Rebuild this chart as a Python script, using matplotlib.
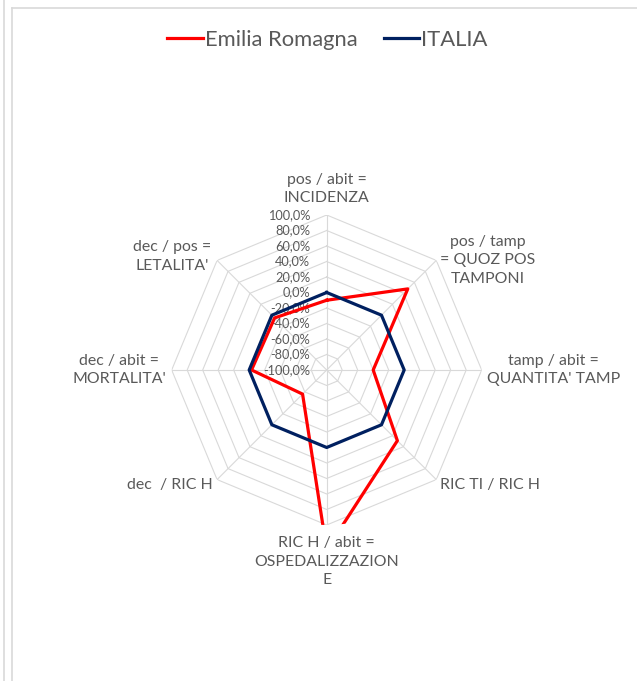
import numpy as np
import matplotlib
matplotlib.use("Agg")
import matplotlib.pyplot as plt
from matplotlib.lines import Line2D

plt.rcParams['font.family'] = ['Lato', 'DejaVu Sans']

# dati (valori in %)
categorie = ["pos / abit =\nINCIDENZA",
             "pos / tamp\n= QUOZ POS\nTAMPONI",
             "tamp / abit =\nQUANTITA' TAMP",
             "RIC TI / RIC H",
             "RIC H / abit =\nOSPEDALIZZAZION\nE",
             "dec  / RIC H",
             "dec / abit =\nMORTALITA'",
             "dec / pos =\nLETALITA'"]
emilia_romagna = [-10, 48, -40, 29, 132, -56, -3, -5]
italia = [0, 0, 0, 0, 0, 0, 0, 0]
tick_valori = [-100, -80, -60, -40, -20, 0, 20, 40, 60, 80, 100]
tick_labels = ["-100,0%", "-80,0%", "-60,0%", "-40,0%", "-20,0%", "0,0%",
               "20,0%", "40,0%", "60,0%", "80,0%", "100,0%"]

grigio = "#595959"
n = len(categorie)
angoli = np.linspace(0, 2 * np.pi, n, endpoint=False)
chiuso = np.append(angoli, angoli[0])

fig = plt.figure(figsize=(6.37, 6.81), dpi=100)
ax = fig.add_axes([0.2695, 0.2291, 0.4867, 0.4552], projection='polar')
ax.set_theta_zero_location('N')
ax.set_theta_direction(-1)
ax.set_ylim(-100, 100)
ax.grid(False)
ax.spines['polar'].set_visible(False)
ax.set_xticks([])
ax.set_yticks([])

# griglia ottagonale
for v in tick_valori:
    ax.plot(chiuso, [v] * (n + 1), color="#d9d9d9", lw=0.8, zorder=1)
for a in angoli:
    ax.plot([a, a], [-100, 100], color="#d9d9d9", lw=0.8, zorder=1)

# etichette asse radiale
for v, lab in zip(tick_valori, tick_labels):
    ax.annotate(lab, xy=(0, v), xytext=(-12, 0), textcoords='offset points',
                ha='right', va='center', fontsize=9.2, color=grigio, zorder=2)

# serie
ax.plot(chiuso, emilia_romagna + emilia_romagna[:1], color="#ff0000", lw=2.3,
        label="Emilia Romagna", zorder=3)
ax.plot(chiuso, italia + italia[:1], color="#002060", lw=2.3,
        label="ITALIA", zorder=4)

# etichette categorie
offs = [(0, 7, 'center', 'bottom'),
        (3, 0, 'left', 'center'),
        (4, 0, 'left', 'center'),
        (3, -4, 'left', 'center'),
        (0, -8, 'center', 'top'),
        (-3, -4, 'right', 'center'),
        (-4, 0, 'right', 'center'),
        (-4, 3, 'right', 'center')]
for a, lab, (dx, dy, ha, va) in zip(angoli, categorie, offs):
    ax.annotate(lab, xy=(a, 100), xytext=(dx, dy), textcoords='offset points',
                ha=ha, va=va, multialignment='center', fontsize=11.4,
                color=grigio, linespacing=1.42, annotation_clip=False)

fig.legend(loc='upper center', bbox_to_anchor=(0.514, 0.985), ncol=2, frameon=False,
           fontsize=15.8, handlelength=1.6, handletextpad=0.1, columnspacing=1.2,
           labelcolor=grigio)

# bordi
bordo = "#d9d9d9"
fig.add_artist(Line2D([12 / 637, 1], [1 - 8 / 681, 1 - 8 / 681], color=bordo, lw=1.2))
fig.add_artist(Line2D([12 / 637, 12 / 637], [0, 1 - 8 / 681], color=bordo, lw=1.2))
fig.add_artist(Line2D([4 / 637, 4 / 637], [0, 1], color=bordo, lw=1.2))

fig.savefig("out.png", dpi=100, facecolor="white")
